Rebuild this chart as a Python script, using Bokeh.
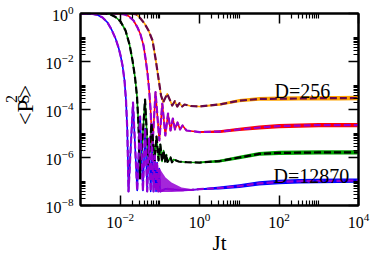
import numpy as np
from bokeh.plotting import figure
from bokeh.layouts import row
from bokeh.models import FixedTicker, LogTickFormatter, LogAxis, Label, CustomJSTickFormatter, Range1d
from bokeh.embed import file_html
from bokeh.resources import INLINE

# ---------------- data (log10 values) ----------------
# set A: D=256 (orange noisy, maroon dashed)
lt_A = [-3.0, -1.741, -1.589, -1.489, -1.388, -1.287, -1.186, -1.111, -1.028, -0.972,
        -0.917, -0.816, -0.690, -0.625, -0.564, -0.506, -0.438, -0.380, -0.229, 0.0,
        0.5, 1.0, 1.5, 2.0, 2.5, 3.0, 3.5, 4.0]
lp_A = [0.0, 0.0, -0.042, -0.208, -0.417, -0.708, -1.125, -1.875, -2.792, -3.417,
        -3.696, -3.346, -3.833, -3.654, -3.875, -3.737, -3.875, -3.792, -3.854, -3.875,
        -3.79, -3.63, -3.56, -3.55, -3.54, -3.53, -3.53, -3.52]
# set B (red noisy, violet dashed)
lt_B = [-3.0, -2.043, -1.892, -1.791, -1.665, -1.564, -1.489, -1.413, -1.363, -1.312,
        -1.275, -1.237, -1.212, -1.194, -1.111, -1.015, -0.940, -0.864, -0.796, -0.733,
        -0.675, -0.620, -0.557, -0.494, -0.431, -0.330, -0.229, 0.0,
        0.5, 1.0, 1.5, 2.0, 2.5, 3.0, 3.5, 4.0]
lp_B = [0.0, 0.0, -0.042, -0.104, -0.292, -0.583, -0.875, -1.333, -1.875, -2.5,
        -3.125, -3.958, -4.875, -5.708, -3.279, -5.292, -3.75, -5.083, -4.167, -4.875,
        -4.375, -4.833, -4.542, -4.833, -4.667, -4.875, -4.896, -4.94,
        -4.92, -4.83, -4.75, -4.69, -4.67, -4.65, -4.65, -4.65]
# set C (green noisy, black dashed)
lt_C = [-3.0, -2.370, -2.244, -2.118, -1.992, -1.866, -1.766, -1.690, -1.627, -1.577,
        -1.539, -1.501, -1.375, -1.287, -1.212, -1.136, -1.086, -1.035, -0.990, -0.947,
        -0.909, -0.872, -0.839, -0.809, -0.733, -0.695, -0.657, -0.531, -0.330, 0.0,
        0.5, 1.0, 1.5, 2.0, 2.5, 3.0, 3.5, 4.0]
lp_C = [0.0, 0.0, -0.042, -0.146, -0.333, -0.708, -1.292, -1.958, -2.667, -3.458,
        -4.667, -6.875, -3.583, -6.333, -4.583, -6.125, -5.125, -6.125, -5.458, -6.167,
        -5.708, -6.167, -5.875, -6.188, -6.0, -6.2, -6.083, -6.167, -6.196, -6.21,
        -6.15, -6.0, -5.85, -5.81, -5.80, -5.79, -5.79, -5.79]
# set D: D=12870 (blue noisy, violet dashed)
lt_D = [-3.0, -2.698, -2.572, -2.446, -2.320, -2.219, -2.118, -2.043, -1.992, -1.942,
        -1.892, -1.854, -1.821, -1.791, -1.678, -1.572, -1.499, -1.428, -1.373, -1.320,
        -1.275, -1.232, -1.196, -1.161, -1.128, -1.098, -1.071, -1.043, -1.018, -0.992,
        -0.859, -0.708, -0.456, -0.204, 0.0,
        0.5, 1.0, 1.5, 2.0, 2.5, 3.0, 3.5, 4.0]
lp_D = [0.0, -0.021, -0.063, -0.167, -0.375, -0.667, -1.042, -1.417, -1.75, -2.167,
        -2.792, -3.625, -4.875, -7.417, -3.708, -7.375, -4.292, -7.375, -4.792, -7.417,
        -5.208, -7.417, -5.583, -7.417, -5.917, -7.417, -6.208, -7.417, -6.458, -7.417,
        -7.30, -7.33, -7.36, -7.35, -7.32,
        -7.27, -7.19, -7.08, -7.02, -6.99, -6.98, -6.97, -6.96]
# dense fast oscillation tail of set D (envelopes)
wedge_lt_D = [-1.018, -0.992, -0.859, -0.708, -0.456, -0.204, 0.0]
wedge_up_D = [-6.458, -6.5, -6.833, -7.042, -7.25, -7.31, -7.30]
wedge_lo_D = [-7.417, -7.438, -7.438, -7.438, -7.42, -7.39, -7.34]

# late-time fluctuation bands (upper / lower envelopes)
noise_lt = [0.0, 0.5, 1.0, 1.5, 2.0, 2.5, 3.0, 3.5, 4.0]
up_A = [-3.855, -3.74, -3.56, -3.48, -3.46, -3.45, -3.44, -3.44, -3.43]
lo_A = [-3.895, -3.84, -3.70, -3.64, -3.64, -3.63, -3.62, -3.62, -3.61]
up_B = [-4.91, -4.86, -4.76, -4.67, -4.60, -4.58, -4.56, -4.56, -4.56]
lo_B = [-4.97, -4.98, -4.90, -4.83, -4.78, -4.76, -4.74, -4.74, -4.74]
up_C = [-6.18, -6.09, -5.93, -5.77, -5.72, -5.71, -5.70, -5.70, -5.70]
lo_C = [-6.24, -6.21, -6.07, -5.93, -5.90, -5.89, -5.88, -5.88, -5.88]
up_D = [-7.29, -7.21, -7.11, -6.99, -6.93, -6.90, -6.89, -6.88, -6.87]
lo_D = [-7.35, -7.33, -7.27, -7.17, -7.11, -7.08, -7.07, -7.06, -7.05]

x_major = [1e-2, 1e0, 1e2, 1e4]
y_major = [1e-8, 1e-6, 1e-4, 1e-2, 1e0]
label_A = "D=256"
label_D = "D=12870"
x_title = "Jt"
y_title_parts = ["<P", "2", "S", ">"]

# ---------------- figure ----------------
FONT = "Liberation Serif"
LABEL_W = 40
p = figure(width=374 - LABEL_W, height=258, x_axis_type="log", y_axis_type="log",
           x_range=Range1d(1e-3, 1e4), y_range=Range1d(1e-8, 1.0),
           output_backend="svg", toolbar_location=None,
           min_border_left=80 - LABEL_W, min_border_right=16, min_border_top=13, min_border_bottom=53)
p.xgrid.visible = False
p.ygrid.visible = False
p.outline_line_color = "black"
p.outline_line_width = 2
p.background_fill_color = "white"
p.border_fill_color = "white"

def minors(majors):
    return [m * j for m in majors[:-1] for j in range(2, 11)]

def style(ax, ticks, labels=True):
    ax.ticker = FixedTicker(ticks=ticks, minor_ticks=minors(ticks))
    ax.axis_line_width = 2
    ax.major_tick_in = 10
    ax.major_tick_out = 0
    ax.minor_tick_in = 5
    ax.minor_tick_out = 0
    ax.major_tick_line_width = 1.5
    ax.minor_tick_line_width = 1.2
    if labels:
        ax.formatter = LogTickFormatter()
        ax.major_label_text_font = FONT
        ax.major_label_text_font_size = "16px"
        ax.major_label_text_color = "black"
        ax.major_label_standoff = 7
    else:
        ax.formatter = CustomJSTickFormatter(code="return ''")
        ax.major_label_text_font_size = "1px"
        ax.major_label_standoff = 0

style(p.xaxis[0], x_major)
style(p.yaxis[0], y_major)
p.yaxis[0].major_label_orientation = "horizontal"
p.xaxis[0].axis_label = x_title
p.xaxis[0].axis_label_text_font = FONT
p.xaxis[0].axis_label_text_font_style = "normal"
p.xaxis[0].axis_label_text_font_size = "21px"
p.xaxis[0].axis_label_text_color = "black"
p.xaxis[0].axis_label_standoff = 0
top = LogAxis(); style(top, x_major, labels=False)
right = LogAxis(); style(right, y_major, labels=False)
p.add_layout(top, "above")
p.add_layout(right, "right")

def P(a):
    return 10.0 ** np.asarray(a, dtype=float)

ORANGE, MAROON, RED, VIOLET, GREEN, BLUE = "#FFA500", "#670748", "#FF0000", "#9400D3", "#00A000", "#0000FF"

# noisy (solid) curves and their fluctuation bands
for lt, lp, up, lo, col in [(lt_A, lp_A, up_A, lo_A, ORANGE), (lt_B, lp_B, up_B, lo_B, RED),
                            (lt_C, lp_C, up_C, lo_C, GREEN), (lt_D, lp_D, up_D, lo_D, BLUE)]:
    p.varea(x=P(noise_lt), y1=P(lo), y2=P(up), fill_color=col, fill_alpha=1.0)
    p.line(P(lt), P(lp), line_color=col, line_width=1.6, line_join="round")

p.varea(x=P(wedge_lt_D), y1=P(wedge_lo_D), y2=P(wedge_up_D), fill_color=VIOLET, fill_alpha=0.85)

# dashed averaged curves
for lt, lp, col in [(lt_A, lp_A, MAROON), (lt_B, lp_B, VIOLET), (lt_C, lp_C, "black"), (lt_D, lp_D, VIOLET)]:
    p.line(P(lt), P(lp), line_color=col, line_width=2.2, line_dash="7 3", line_join="round")

# in-plot labels
p.add_layout(Label(x=10 ** 1.887, y=10 ** -3.22, text=label_A, text_font=FONT, text_color="black",
                   text_font_size="20px", text_baseline="alphabetic", text_align="left"))
p.add_layout(Label(x=10 ** 1.861, y=10 ** -6.75, text=label_D, text_font=FONT, text_color="black",
                   text_font_size="20px", text_baseline="alphabetic", text_align="left"))

# y-axis title in a narrow strip to the left (page-pixel coordinates, y downwards)
q = figure(width=LABEL_W, height=258, x_range=Range1d(0, LABEL_W), y_range=Range1d(258, 0),
           output_backend="svg", toolbar_location=None, x_axis_location=None, y_axis_location=None,
           min_border=0)
q.xgrid.visible = False
q.ygrid.visible = False
q.outline_line_color = None
q.border_fill_color = "white"
ang = np.pi / 2
ypos = [(25, 133, "23px"), (11, 115, "16px"), (23, 115, "16px"), (25, 104.5, "23px")]
for txt, (sx, sy, fs) in zip(y_title_parts, ypos):
    q.add_layout(Label(x=sx, y=sy, text=txt, text_font=FONT, text_color="black", angle=ang,
                       text_font_size=fs, text_baseline="middle", text_align="center"))

open("out.html", "w").write(file_html(row(q, p), INLINE))
